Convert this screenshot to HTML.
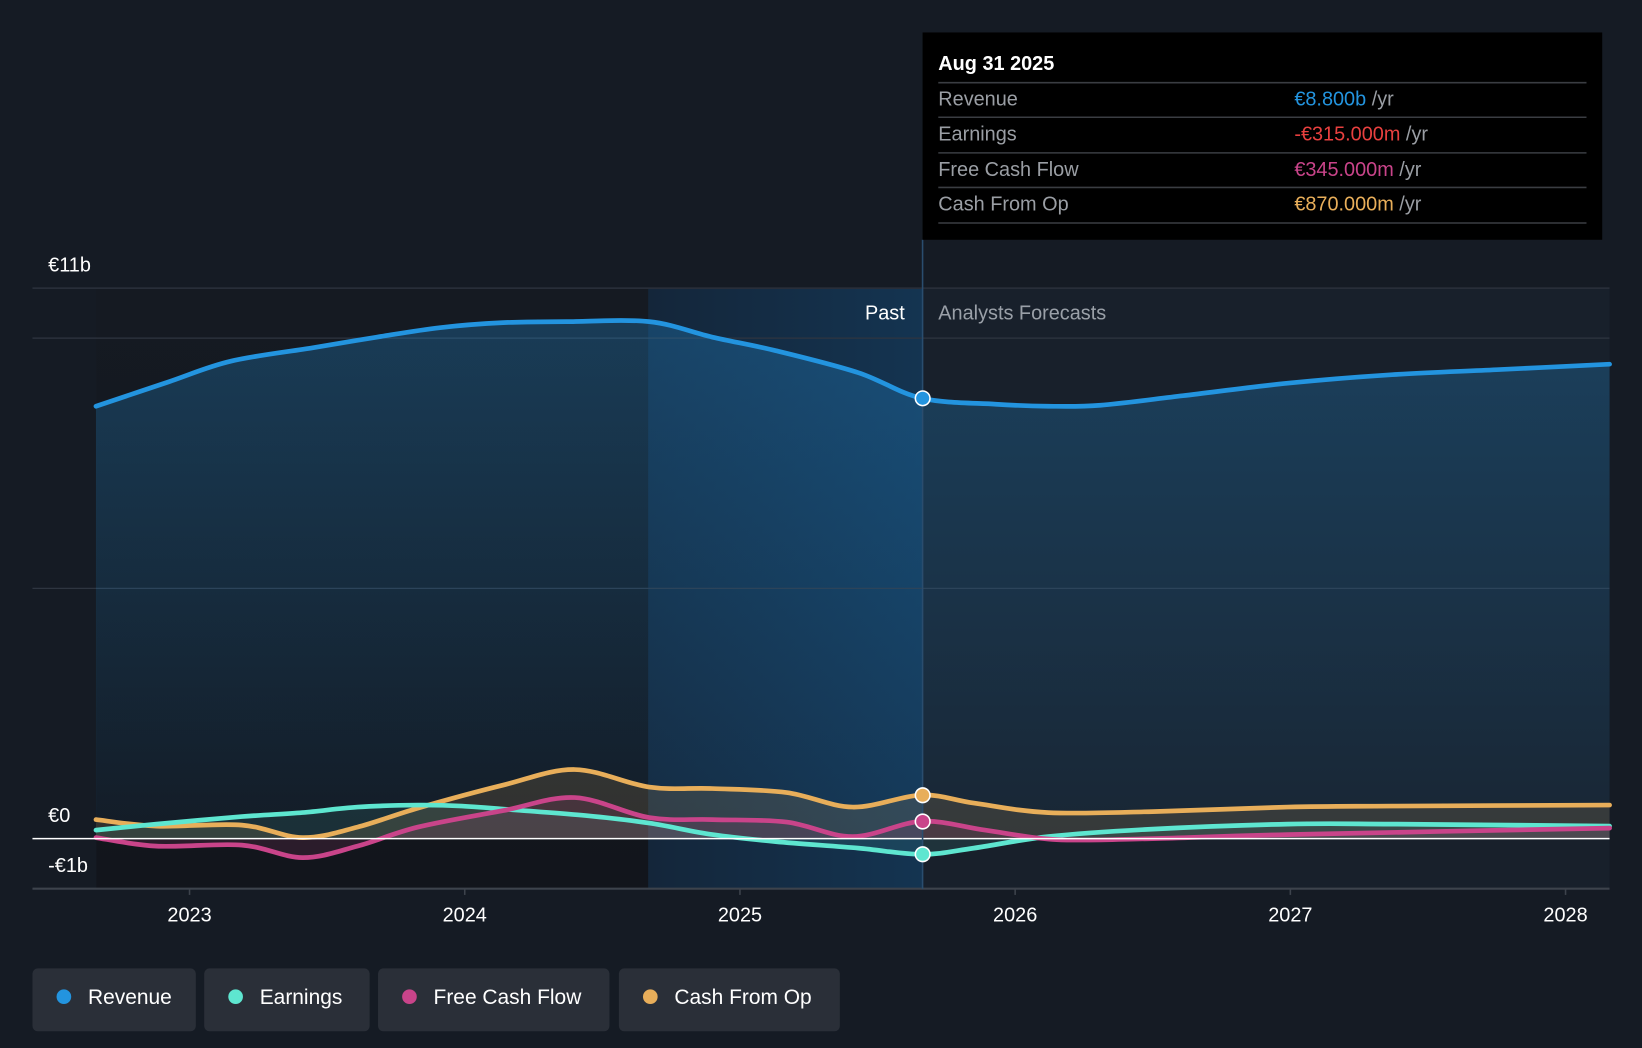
<!DOCTYPE html>
<html><head><meta charset="utf-8"><style>
html,body{margin:0;padding:0;background:#151b24;}
svg{display:block;font-family:"Liberation Sans",sans-serif;}
</style></head><body>
<svg id="chart" width="1642" height="1048" viewBox="0 0 1568 1001" preserveAspectRatio="none" xmlns="http://www.w3.org/2000/svg">
<defs>
<linearGradient id="pastBg" x1="0" y1="0" x2="0" y2="1"><stop offset="0" stop-color="#151a22"/><stop offset="1" stop-color="#12151c"/></linearGradient>
<linearGradient id="hlBg" x1="0" y1="0" x2="1" y2="0"><stop offset="0" stop-color="#14263a"/><stop offset="1" stop-color="#143451"/></linearGradient>
<linearGradient id="revFill" x1="0" y1="0" x2="0" y2="1"><stop offset="0" stop-color="#2394df" stop-opacity="0.28"/><stop offset="1" stop-color="#2394df" stop-opacity="0.05"/></linearGradient>
</defs>
<rect x="0" y="0" width="1568" height="1001" fill="#151b24"/>
<rect x="92" y="276" width="527" height="573" fill="url(#pastBg)"/>
<rect x="619" y="276" width="262" height="573" fill="url(#hlBg)"/>
<rect x="881" y="276" width="656" height="573" fill="#18202b"/>
<g id="grid"></g>
<g id="areas"></g>
<g id="lines"></g>
<g id="axis"></g>
<line x1="881" y1="229" x2="881" y2="849" stroke="#2a4d6e" stroke-width="1.5"/>
<text x="864" y="305" fill="#ffffff" font-size="19" text-anchor="end">Past</text>
<text x="896" y="305" fill="#9aa0a8" font-size="19">Analysts Forecasts</text>
<g id="markers"></g>
<g>
<rect x="881" y="31" width="649" height="198" fill="#000"/>
<text x="896" y="67" fill="#fff" font-size="19" font-weight="bold">Aug 31 2025</text>
<line x1="896" y1="79" x2="1515" y2="79" stroke="#3a3d42" stroke-width="1.5"/>
<line x1="896" y1="112" x2="1515" y2="112" stroke="#3a3d42" stroke-width="1.5"/>
<line x1="896" y1="146" x2="1515" y2="146" stroke="#3a3d42" stroke-width="1.5"/>
<line x1="896" y1="179" x2="1515" y2="179" stroke="#3a3d42" stroke-width="1.5"/>
<line x1="896" y1="213" x2="1515" y2="213" stroke="#3a3d42" stroke-width="1.5"/>
<text x="896" y="101" fill="#9a9ea4" font-size="19">Revenue</text>
<text x="1236" y="101" font-size="19"><tspan fill="#2394df">€8.800b</tspan><tspan fill="#9a9ea4"> /yr</tspan></text>
<text x="896" y="134" fill="#9a9ea4" font-size="19">Earnings</text>
<text x="1236" y="134" font-size="19"><tspan fill="#e8403f">-€315.000m</tspan><tspan fill="#9a9ea4"> /yr</tspan></text>
<text x="896" y="168" fill="#9a9ea4" font-size="19">Free Cash Flow</text>
<text x="1236" y="168" font-size="19"><tspan fill="#c9448a">€345.000m</tspan><tspan fill="#9a9ea4"> /yr</tspan></text>
<text x="896" y="201" fill="#9a9ea4" font-size="19">Cash From Op</text>
<text x="1236" y="201" font-size="19"><tspan fill="#e8ae5a">€870.000m</tspan><tspan fill="#9a9ea4"> /yr</tspan></text>
</g>
<g id="legend"></g>
</svg>
<script>
const revT=[2022.66,2022.92,2023.15,2023.45,2023.68,2023.91,2024.14,2024.37,2024.67,2024.90,2025.13,2025.43,2025.66,2025.93,2026.12,2026.31,2026.61,2026.99,2027.37,2027.75,2028.16];
const revV=[8.64,9.12,9.54,9.81,10.02,10.21,10.31,10.33,10.33,10.02,9.75,9.31,8.80,8.68,8.64,8.66,8.85,9.10,9.27,9.37,9.48];
const earnT=[2022.66,2022.88,2023.19,2023.41,2023.61,2023.83,2023.99,2024.21,2024.44,2024.67,2024.90,2025.13,2025.43,2025.66,2025.85,2026.12,2026.50,2026.99,2027.37,2028.16];
const earnV=[0.17,0.29,0.44,0.52,0.63,0.67,0.65,0.56,0.46,0.31,0.08,-0.06,-0.19,-0.315,-0.19,0.04,0.19,0.29,0.29,0.25];
const fcfT=[2022.66,2022.88,2023.19,2023.41,2023.61,2023.83,2024.14,2024.40,2024.67,2024.90,2025.17,2025.41,2025.66,2025.89,2026.15,2026.50,2026.99,2028.16];
const fcfV=[0.02,-0.15,-0.13,-0.38,-0.15,0.23,0.56,0.82,0.42,0.38,0.33,0.04,0.345,0.17,-0.02,0,0.08,0.21];
const cfoT=[2022.66,2022.88,2023.19,2023.41,2023.61,2023.83,2024.14,2024.40,2024.67,2024.90,2025.17,2025.41,2025.66,2025.85,2026.12,2026.50,2026.99,2027.37,2028.16];
const cfoV=[0.38,0.25,0.27,0.02,0.23,0.61,1.07,1.38,1.03,1.00,0.92,0.63,0.87,0.71,0.52,0.54,0.63,0.65,0.67];
const xTicks=[2023,2024,2025,2026,2027,2028];
const yTickVals=[11,0,-1];
const yTickLabels=["€11b","€0","-€1b"];
const gridVals=[11,10,5];
const NOW=2025.664;

const NS="http://www.w3.org/2000/svg";
const X=t=>181+(t-2023)*262.8;
const Y=v=>801-v*47.8;
function mk(tag,attrs,parent){const e=document.createElementNS(NS,tag);for(const k in attrs)e.setAttribute(k,attrs[k]);parent.appendChild(e);return e;}
function path(ts,vs){const p=ts.map((t,i)=>[X(t),Y(vs[i])]);let d=`M${p[0][0]},${p[0][1]}`;
 for(let i=0;i<p.length-1;i++){const p0=p[i-1]||p[i],p1=p[i],p2=p[i+1],p3=p[i+2]||p2;
  const c1=[p1[0]+(p2[0]-p0[0])/6,p1[1]+(p2[1]-p0[1])/6],c2=[p2[0]-(p3[0]-p1[0])/6,p2[1]-(p3[1]-p1[1])/6];
  d+=` C${c1[0]},${c1[1]} ${c2[0]},${c2[1]} ${p2[0]},${p2[1]}`;}return d;}
function interp(ts,vs,t){for(let i=0;i<ts.length-1;i++){if(t>=ts[i]&&t<=ts[i+1]){const f=(t-ts[i])/(ts[i+1]-ts[i]);return vs[i]+f*(vs[i+1]-vs[i]);}}return vs[vs.length-1];}

const grid=document.getElementById('grid');
gridVals.forEach(v=>{const l=mk('line',{x1:31,x2:1537,y1:Y(v),y2:Y(v),stroke:'#2e3540','stroke-width':1.2},grid);

});
const axis=document.getElementById('axis');
const zl=mk('line',{x1:31,x2:1537,y1:Y(0),y2:Y(0),stroke:'#ffffff','stroke-width':1.5},axis);


const bl=mk('line',{x1:31,x2:1537,y1:Y(-1),y2:Y(-1),stroke:'#3d434c','stroke-width':2},axis);


yTickVals.forEach((v,i)=>{const t=mk('text',{x:46,y:Y(v)-16,fill:'#fff','font-size':19},axis);
 t.textContent=yTickLabels[i];
 
 });
xTicks.forEach(yr=>{const tk=mk('line',{x1:X(yr),x2:X(yr),y1:Y(-1),y2:Y(-1)+6,stroke:'#3d434c','stroke-width':1.5},axis);
 
 
 const t=mk('text',{x:X(yr),y:880,fill:'#fff','font-size':19,'text-anchor':'middle'},axis);t.textContent=yr;
 
 });

const series=[
 {n:'revenue',t:revT,v:revV,c:'#2394df',fill:'url(#revFill)'},
 {n:'cash-from-op',t:cfoT,v:cfoV,c:'#e8ae5a',fill:'rgba(232,174,90,0.14)'},
 {n:'earnings',t:earnT,v:earnV,c:'#5ee6d0',fill:'rgba(94,230,208,0.10)'},
 {n:'free-cash-flow',t:fcfT,v:fcfV,c:'#c9448a',fill:'rgba(201,68,138,0.14)'}];
const areas=document.getElementById('areas'),lines=document.getElementById('lines'),markers=document.getElementById('markers');
series.forEach(s=>{const d=path(s.t,s.v);
 const a=mk('path',{d:d+` L${X(s.t[s.t.length-1])},${Y(0)} L${X(s.t[0])},${Y(0)} Z`,fill:s.fill},areas);
 
 
 const l=mk('path',{d:d,fill:'none',stroke:s.c,'stroke-width':4.5,'stroke-linecap':'round','stroke-linejoin':'round'},lines);
 
 
 const m=mk('circle',{cx:X(NOW),cy:Y(interp(s.t,s.v,NOW)),r:7,fill:s.c,stroke:'#fff','stroke-width':1.5},markers);
 
 });

const legendItems=[{n:'Revenue',c:'#2394df',x:31,w:156},{n:'Earnings',c:'#5ee6d0',x:195,w:158},{n:'Free Cash Flow',c:'#c9448a',x:361,w:221},{n:'Cash From Op',c:'#e8ae5a',x:591,w:211}];
const lg=document.getElementById('legend');
legendItems.forEach(it=>{const g=mk('g',{},lg);
 
 
 mk('rect',{x:it.x,y:925,width:it.w,height:60,rx:5,fill:'#2a2f38'},g);
 mk('circle',{cx:it.x+30,cy:952,r:7,fill:it.c},g);
 const t=mk('text',{x:it.x+53,y:959,fill:'#fff','font-size':20},g);t.textContent=it.n;});
</script>
</body></html>
